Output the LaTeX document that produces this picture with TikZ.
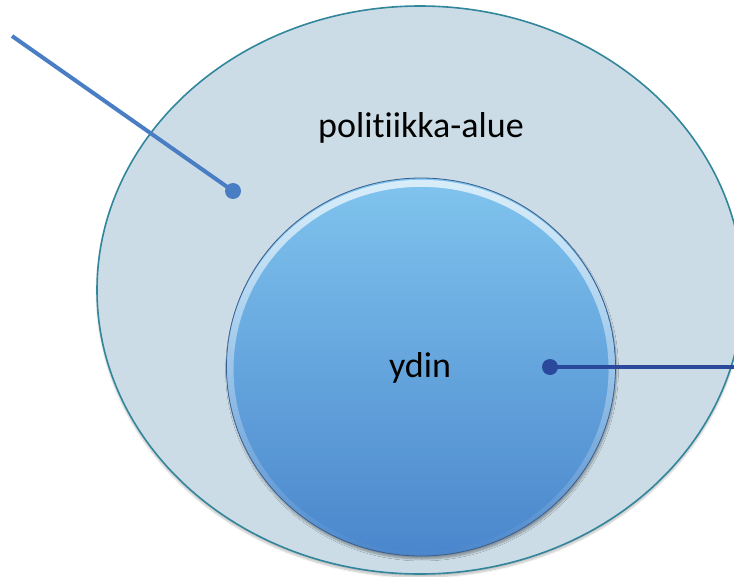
\documentclass[tikz,border=0pt]{standalone}
\usepackage{fontspec}
\setmainfont{Carlito}[Ligatures=NoCommon]
\usetikzlibrary{shapes.geometric,shadows.blur,fadings}
\definecolor{outerfill}{HTML}{CCDCE6}
\definecolor{outerline}{HTML}{31869B}
\definecolor{innertop}{HTML}{80C4EE}
\definecolor{innerbot}{HTML}{4A86CC}
\definecolor{innerline}{HTML}{3A5F8E}
\definecolor{lineone}{HTML}{4A7EC4}
\definecolor{linetwo}{HTML}{2A489C}
\tikzset{
  outerarea/.style={ellipse, draw=outerline, line width=1.6pt, fill=outerfill, inner sep=0pt,
     blur shadow={shadow xshift=0pt, shadow yshift=-3pt, shadow blur steps=8, shadow opacity=25}},
  corearea/.style={ellipse, draw=innerline, line width=0.8pt, top color=innertop, bottom color=innerbot, inner sep=0pt,
     blur shadow={shadow xshift=1pt, shadow yshift=-3pt, shadow blur steps=8, shadow opacity=35}},
  labeltext/.style={font=\fontsize{36}{40}\selectfont, text=black, inner sep=0pt},
  dotmark/.style={circle, inner sep=0pt, minimum size=16pt},
  leader/.style={line width=4pt}
}
\begin{document}
\begin{tikzpicture}[x=1pt,y=-1pt]
\useasboundingbox (0,0) rectangle (734,576);
\node[outerarea, minimum width=646pt, minimum height=568pt] (outer) at (420,290) {};
\node[corearea, minimum width=389pt, minimum height=378pt] (core) at (421,367) {};
% glossy rim highlight at top of core
\begin{scope}
\clip (421,367) ellipse [x radius=194pt, y radius=188.5pt];
\draw[white, opacity=0.7, line width=7pt, path fading=south] (421,369) ellipse [x radius=191pt, y radius=186pt];
\end{scope}
\node[labeltext] (politics) at (421,128) {politiikka-alue};
\node[labeltext] (coretext) at (420,368) {ydin};
\node[dotmark, fill=lineone] (dotone) at (233,191) {};
\node[dotmark, fill=linetwo] (dottwo) at (550,367) {};
\coordinate (startone) at (12,36);
\coordinate (endtwo) at (734,367);
\draw[leader, lineone] (startone) -- (dotone.center);
\draw[leader, linetwo] (dottwo.center) -- (endtwo);
\end{tikzpicture}
\end{document}
